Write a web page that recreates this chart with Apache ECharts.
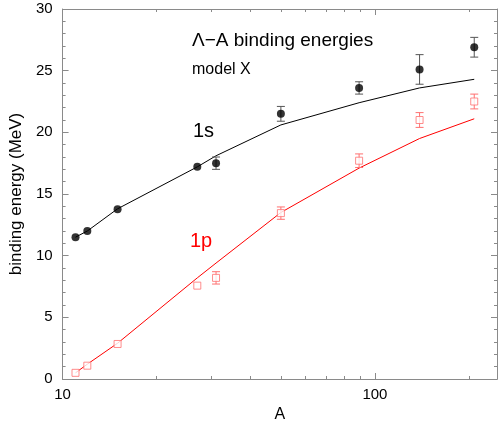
<!DOCTYPE html>
<html>
<head>
<meta charset="utf-8">
<script src="https://cdn.jsdelivr.net/npm/echarts@6/dist/echarts.min.js"></script>
<style>
  html, body { margin: 0; padding: 0; background: #fff; }
  #chart { width: 498px; height: 431px; }
</style>
</head>
<body>
<div id="chart"></div>
<script>
// mass numbers A
const massA = [11, 12, 15, 27, 31, 50, 89, 139, 208]
// model curves (MeV)
const calc1s = [11.5, 12.0, 13.8, 17.2, 18.1, 20.6, 22.4, 23.6, 24.3]
const calc1p = [0.5, 1.2, 2.9, 8.2, 9.4, 13.5, 17.1, 19.5, 21.1]
// experiment (MeV) and errors
const exp1s = [11.5, 12.0, 13.76, 17.2, 17.5, 21.5, 23.6, 25.1, 26.9]
const err1s = [0, 0, 0, 0, 0.5, 0.6, 0.5, 1.2, 0.8]
const exp1p = [0.5, 1.08, 2.84, 7.57, 8.2, 13.45, 17.7, 21.0, 22.5]
const err1p = [0, 0, 0, 0, 0.5, 0.5, 0.55, 0.6, 0.6]
// ticks
const xMinorTicks = [20, 30, 40, 50, 60, 70, 80, 90, 200]
const xMajorTicks = [100]
const xLabels = [10, 100]

const font = 'Liberation Sans, Arial, Helvetica, sans-serif'
const axisGray = '#8a8a8a'

const pairs = (xs, ys) => xs.map((x, i) => [x, ys[i]])
const errRows = (xs, ys, es) => xs.map((x, i) => [x, ys[i] - es[i], ys[i] + es[i]]).filter((r, i) => es[i] > 0)

function errorBar (color) {
  return function (params, api) {
    const lo = api.coord([api.value(0), api.value(1)])
    const hi = api.coord([api.value(0), api.value(2)])
    const w = 4
    const style = { stroke: color, lineWidth: 1 }
    return {
      type: 'group',
      children: [
        { type: 'line', shape: { x1: lo[0], y1: lo[1], x2: hi[0], y2: hi[1] }, style },
        { type: 'line', shape: { x1: lo[0] - w, y1: lo[1], x2: lo[0] + w, y2: lo[1] }, style },
        { type: 'line', shape: { x1: hi[0] - w, y1: hi[1], x2: hi[0] + w, y2: hi[1] }, style }
      ]
    }
  }
}

function logAxis (pos, ticks, len, labels) {
  return {
    type: 'log',
    position: pos,
    min: 10,
    max: 246,
    logBase: 10,
    axisLine: { show: true, onZero: false, lineStyle: { color: axisGray, width: 1 } },
    axisTick: { show: true, inside: true, length: len, customValues: ticks, lineStyle: { color: axisGray } },
    axisLabel: labels
      ? { show: true, customValues: labels, margin: 8, fontSize: 15, color: '#000', fontFamily: font, formatter: v => String(Math.round(v)) }
      : { show: false },
    splitLine: { show: false },
    minorTick: { show: false }
  }
}

function linAxis (pos, labels) {
  return {
    type: 'value',
    position: pos,
    min: 0,
    max: 30,
    interval: 5,
    axisLine: { show: true, onZero: false, lineStyle: { color: axisGray, width: 1 } },
    axisTick: { show: true, inside: true, length: 6, lineStyle: { color: axisGray } },
    minorTick: { show: true, splitNumber: 5, length: 3, lineStyle: { color: axisGray } },
    axisLabel: labels ? { show: true, margin: 10, fontSize: 15, color: '#000', fontFamily: font } : { show: false },
    splitLine: { show: false },
    minorSplitLine: { show: false }
  }
}

const chart = echarts.init(document.getElementById('chart'))

const xBottom = logAxis('bottom', xMinorTicks, 3, xLabels)
xBottom.name = 'A'
xBottom.nameLocation = 'middle'
xBottom.nameGap = 28
xBottom.nameTextStyle = { fontSize: 16, color: '#000', fontFamily: font }

const yLeft = linAxis('left', true)
yLeft.name = 'binding energy (MeV)'
yLeft.nameLocation = 'middle'
yLeft.nameGap = 37
yLeft.nameTextStyle = { fontSize: 17, color: '#000', fontFamily: font }

const option = {
  animation: false,
  backgroundColor: '#fff',
  grid: { left: 54, right: 1, top: 9, bottom: 52, containLabel: false },
  xAxis: [
    xBottom,
    logAxis('bottom', xMajorTicks, 6, null),
    logAxis('top', xMinorTicks, 3, null),
    logAxis('top', xMajorTicks, 6, null)
  ],
  yAxis: [
    yLeft,
    linAxis('right', false)
  ],
  graphic: [
    { type: 'text', left: 192, top: 31, style: { text: 'Λ−A binding energies', fontSize: 19, fill: '#000', fontFamily: font } },
    { type: 'text', left: 192, top: 62, style: { text: 'model X', fontSize: 16, fill: '#000', fontFamily: font } },
    { type: 'text', left: 193, top: 121, style: { text: '1s', fontSize: 20, fill: '#000', fontFamily: font } },
    { type: 'text', left: 190, top: 231, style: { text: '1p', fontSize: 20, fill: '#ff0000', fontFamily: font } }
  ],
  series: [
    {
      name: '1s model',
      type: 'line',
      data: pairs(massA, calc1s),
      symbol: 'none',
      lineStyle: { color: '#000', width: 1 },
      z: 2
    },
    {
      name: '1p model',
      type: 'line',
      data: pairs(massA, calc1p),
      symbol: 'none',
      lineStyle: { color: '#ff0000', width: 1 },
      z: 2
    },
    {
      name: '1s err',
      type: 'custom',
      data: errRows(massA, exp1s, err1s),
      renderItem: errorBar('#555'),
      z: 3
    },
    {
      name: '1p err',
      type: 'custom',
      data: errRows(massA, exp1p, err1p),
      renderItem: errorBar('#ff7070'),
      z: 3
    },
    {
      name: '1s exp',
      type: 'scatter',
      data: pairs(massA, exp1s),
      symbol: 'circle',
      symbolSize: 8,
      itemStyle: { color: '#000' },
      z: 4
    },
    {
      name: '1p exp',
      type: 'scatter',
      data: pairs(massA, exp1p),
      symbol: 'rect',
      symbolSize: 7,
      itemStyle: { color: '#fff', borderColor: '#ff7070', borderWidth: 1 },
      z: 4
    }
  ]
}

chart.setOption(option)
</script>
</body>
</html>
